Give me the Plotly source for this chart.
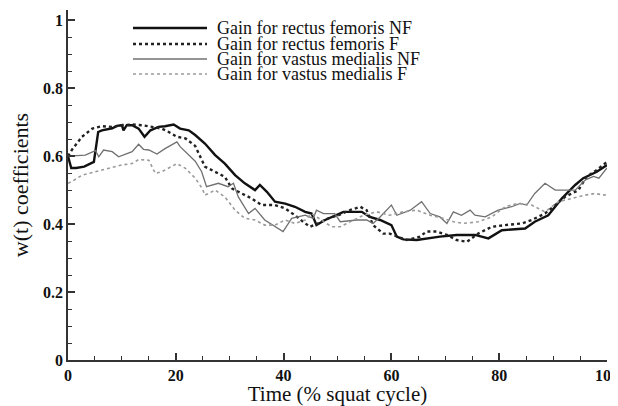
import plotly.graph_objects as go

# ---- data ----
rf_nf_x = [0, 0.6, 1.5, 3, 4.8, 5.6, 6.3, 8.2, 9.1, 10, 10.3, 10.9, 11.9, 13.1, 14.2, 15.3, 16.8, 18, 19.6, 20.8,
           22.4, 23.6, 25.4, 27.3, 29.1, 31, 32.8, 34.7, 35.6, 36.9, 38.4, 40.3, 42.1, 44, 45.2, 46.1, 47.7, 49.5,
           51.1, 54.5, 56, 57.9, 60, 61, 62.2, 64.7, 66.5, 69, 72.1, 75.5, 78, 80.5, 84.8, 86.6, 89.1, 91.6, 94.1,
           95.6, 98.1, 100]
rf_nf_y = [0.60, 0.565, 0.565, 0.569, 0.583, 0.671, 0.676, 0.682, 0.689, 0.691, 0.676, 0.691, 0.691, 0.681, 0.657,
           0.676, 0.686, 0.688, 0.693, 0.681, 0.676, 0.662, 0.637, 0.603, 0.578, 0.544, 0.52, 0.5, 0.515, 0.495,
           0.466, 0.46, 0.451, 0.436, 0.431, 0.397, 0.412, 0.424, 0.436, 0.436, 0.421, 0.412, 0.397, 0.363, 0.355,
           0.353, 0.358, 0.363, 0.368, 0.368, 0.358, 0.382, 0.387, 0.407, 0.426, 0.475, 0.515, 0.535, 0.554, 0.574]

rf_f_x = [0, 0.7, 2.6, 4.5, 6.3, 8.2, 10, 11.9, 13.7, 15.6, 17.4, 18.7, 20.2, 21.8, 23.6, 25.4, 27.3, 29.1, 30.4,
          32.2, 34.1, 35.9, 38.4, 40.3, 42.1, 44, 44.9, 46.4, 48.3, 50.2, 52.3, 54.2, 55.4, 56.6, 58.5, 59.7, 62.8,
          65.3, 66.5, 68.4, 70.3, 72.1, 74, 76.1, 78.6, 81.1, 84.2, 86, 88.5, 90.4, 92.2, 94.7, 96.2, 98.1, 100]
rf_f_y = [0.60, 0.618, 0.657, 0.681, 0.688, 0.686, 0.691, 0.693, 0.691, 0.686, 0.681, 0.671, 0.657, 0.652, 0.63,
          0.569, 0.554, 0.539, 0.505, 0.49, 0.475, 0.456, 0.456, 0.446, 0.426, 0.402, 0.392, 0.402, 0.417, 0.426,
          0.441, 0.451, 0.441, 0.397, 0.372, 0.372, 0.353, 0.363, 0.378, 0.378, 0.368, 0.353, 0.348, 0.372, 0.392,
          0.397, 0.402, 0.412, 0.431, 0.456, 0.48, 0.5, 0.539, 0.559, 0.583]

vm_nf_x = [0, 3.2, 5.1, 5.7, 6.6, 8.2, 9.4, 10.9, 11.9, 13.1, 14, 15, 16.5, 18, 20.2, 20.8, 22.1, 23.6, 24.8, 25.7,
           27.9, 29.7, 30.7, 31.6, 33.5, 34.7, 36.5, 38.4, 39.9, 41.5, 44, 45.5, 46.1, 47.4, 49.5, 50.5, 53.6, 55.4,
           56.6, 57.9, 60, 61, 63.5, 65.6, 67.2, 69, 70.3, 71.5, 73, 74.6, 75.5, 77.4, 79.8, 82.3, 83.9, 85.1, 86.6,
           88.5, 90.4, 94.1, 96, 97.5, 98.5, 100]
vm_nf_y = [0.60, 0.603, 0.616, 0.598, 0.618, 0.613, 0.598, 0.608, 0.613, 0.635, 0.62, 0.618, 0.606, 0.622, 0.642,
           0.628, 0.608, 0.585, 0.554, 0.51, 0.52, 0.51, 0.52, 0.48, 0.431, 0.446, 0.412, 0.392, 0.378, 0.417, 0.426,
           0.417, 0.441, 0.431, 0.431, 0.407, 0.412, 0.412, 0.402, 0.421, 0.456, 0.426, 0.441, 0.466, 0.431, 0.421,
           0.402, 0.436, 0.426, 0.441, 0.426, 0.421, 0.441, 0.451, 0.461, 0.456, 0.49, 0.52, 0.5, 0.5, 0.53, 0.54,
           0.535, 0.565]

vm_f_x = [0, 0.7, 2.6, 5.1, 7.5, 10, 11.9, 13.1, 15, 16.2, 17.4, 18.7, 20.2, 21.8, 23.6, 24.9, 25.4, 27.3, 29.1, 31,
          32.8, 34.7, 36.5, 38.4, 40.3, 42.1, 44, 45.2, 47.1, 48.9, 50.5, 52.3, 54.8, 57.3, 59.7, 62.2, 64.7, 67.2,
          69.6, 71.5, 73.3, 75.2, 76.1, 78.6, 81.1, 83.5, 86, 88.5, 91, 93.4, 95.9, 97.8, 99.6, 100]
vm_f_y = [0.52, 0.525, 0.544, 0.554, 0.564, 0.574, 0.578, 0.59, 0.588, 0.549, 0.554, 0.564, 0.578, 0.564, 0.535,
          0.505, 0.485, 0.5, 0.48, 0.441, 0.417, 0.412, 0.397, 0.397, 0.412, 0.402, 0.412, 0.431, 0.412, 0.392,
          0.392, 0.407, 0.426, 0.436, 0.426, 0.436, 0.441, 0.426, 0.417, 0.407, 0.402, 0.405, 0.407, 0.421, 0.451,
          0.461, 0.456, 0.436, 0.466, 0.475, 0.485, 0.49, 0.485, 0.49]

series_names = ["Gain for rectus femoris NF", "Gain for rectus femoris F",
                "Gain for vastus medialis NF", "Gain for vastus medialis F"]

x_tick_vals = [0, 20, 40, 60, 80, 100]
y_tick_vals = [0, 0.2, 0.4, 0.6, 0.8, 1]
y_tick_text = ["0", "0.2", "0.4", "0.6", "0.8", "1"]

FONT = "Liberation Serif, Times New Roman, serif"

styles = [
    dict(color="#111111", width=2.4, dash="solid"),
    dict(color="#222222", width=2.4, dash="dot"),
    dict(color="#707070", width=1.3, dash="solid"),
    dict(color="#9a9a9a", width=1.6, dash="dot"),
]

fig = go.Figure()
for (xs, ys), name, st in zip([(rf_nf_x, rf_nf_y), (rf_f_x, rf_f_y), (vm_nf_x, vm_nf_y), (vm_f_x, vm_f_y)],
                              series_names, styles):
    fig.add_trace(go.Scatter(x=xs, y=ys, mode="lines", name=name, line=st, showlegend=False))

# manual legend (samples as paper-coordinate shapes, labels as annotations)
leg_rows = [0.9486, 0.9029, 0.86, 0.817]
for yy, name, st in zip(leg_rows, series_names, styles):
    fig.add_shape(type="line", xref="paper", yref="paper", x0=0.1206, x1=0.2579, y0=yy, y1=yy,
                  line=dict(color=st["color"], width=st["width"], dash=st["dash"]))
    fig.add_annotation(xref="paper", yref="paper", x=0.2727, y=yy, text=name, showarrow=False,
                       xanchor="left", yanchor="middle", font=dict(family=FONT, size=18, color="#111"))

axis_common = dict(
    showline=True, linecolor="#333", linewidth=1.5, showgrid=False, zeroline=False,
    ticks="inside", ticklen=7, tickwidth=1.5, tickcolor="#333",
    tickfont=dict(family=FONT, size=16, color="#111", weight="bold"),
    mirror=False, automargin=False, ticklabeloverflow="allow",
)

# the page body has an 8px margin, so the figure is sized/offset to compensate
fig.update_layout(
    width=610, height=398,
    margin=dict(l=60, r=11, t=2, b=46),
    paper_bgcolor="white", plot_bgcolor="white",
    xaxis=dict(range=[0, 100], tickvals=x_tick_vals,
               minor=dict(dtick=5, ticks="inside", ticklen=4, tickcolor="#333", tickwidth=1),
               title=dict(text="Time (% squat cycle)", font=dict(family=FONT, size=21, color="#111"),
                          standoff=0),
               **axis_common),
    yaxis=dict(range=[0, 1.03], tickvals=y_tick_vals, ticktext=y_tick_text,
               minor=dict(dtick=0.05, ticks="inside", ticklen=4, tickcolor="#333", tickwidth=1),
               title=dict(text="w(t) coefficients", font=dict(family=FONT, size=22, color="#111"), standoff=10),
               **axis_common),
)

fig.write_html("out.html")
